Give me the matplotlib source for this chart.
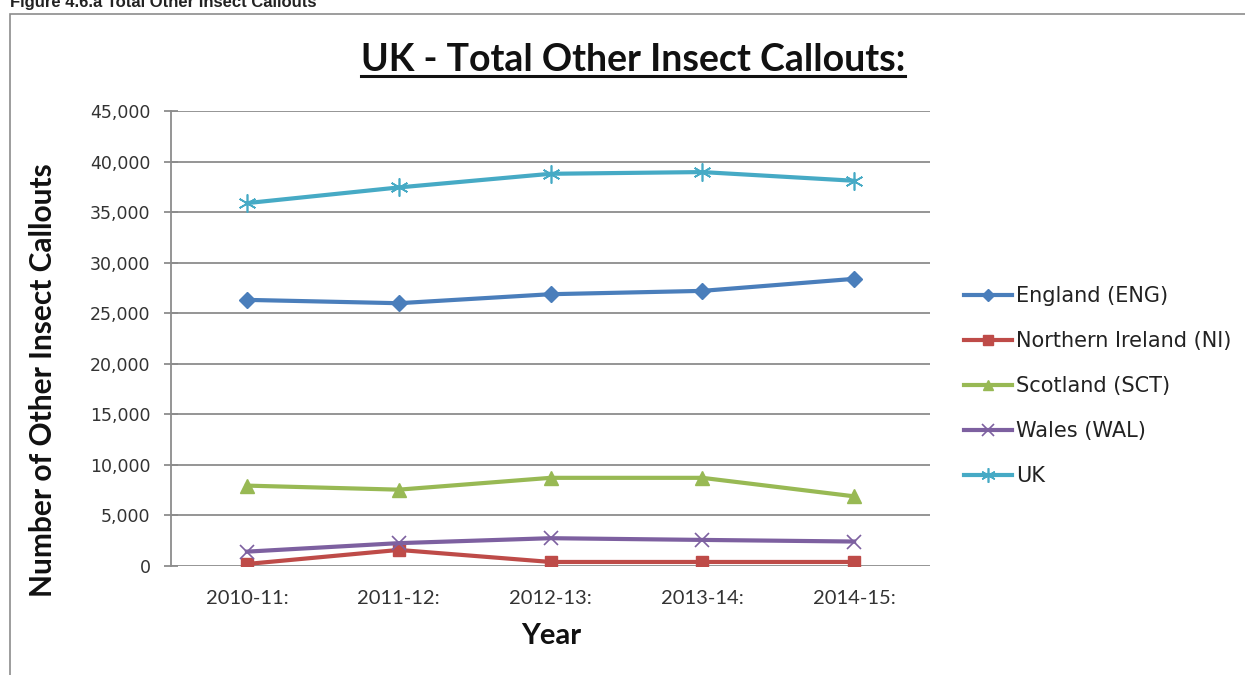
import matplotlib
matplotlib.use('Agg')
import matplotlib.pyplot as plt
from matplotlib.ticker import FuncFormatter, MultipleLocator
from matplotlib.patches import Rectangle

# Data
years = ['2010-11:', '2011-12:', '2012-13:', '2013-14:', '2014-15:']
england = [26320, 25990, 26880, 27210, 28400]
northern_ireland = [200, 1590, 400, 400, 400]
scotland = [7950, 7550, 8720, 8720, 6890]
wales = [1420, 2260, 2750, 2580, 2420]
uk = [35890, 37440, 38790, 38960, 38100]

series = [
    ('England (ENG)', england, '#4A7EBB', 'D', 8, 1),
    ('Northern Ireland (NI)', northern_ireland, '#BE4B48', 's', 8.5, 1),
    ('Scotland (SCT)', scotland, '#98B954', '^', 9.5, 1),
    ('Wales (WAL)', wales, '#7D60A0', 'x', 10, 1.2),
    ('UK', uk, '#46AAC5', (6, 2, 0), 13, 1.2),
]

plt.rcParams['font.family'] = ['Lato', 'DejaVu Sans']

W, H = 1245, 675
fig = plt.figure(figsize=(W / 100, H / 100), dpi=100)

# outer frame of the chart object
fig.patches.append(Rectangle((10 / W, -0.01), 1.0, (H - 14) / H + 0.01,
                             transform=fig.transFigure, fill=False,
                             edgecolor='#8c8c8c', linewidth=1.2))
fig.text(10 / W, 1 - 3 / H, 'Figure 4.6.a Total Other Insect Callouts',
         family='Liberation Sans', fontweight='bold', fontsize=12,
         ha='left', va='center', color='#222222')

ax = fig.add_axes([171 / W, 109 / H, (930 - 171) / W, (566 - 111) / H])
x = list(range(len(years)))
for name, vals, col, mk, ms, mew in series:
    ax.plot(x, vals, color=col, linewidth=3, marker=mk, markersize=ms,
            markeredgewidth=mew, markeredgecolor=col, label=name)

ax.set_xlim(-0.5, len(years) - 0.5)
ax.set_ylim(0, 45000)
ax.yaxis.set_major_locator(MultipleLocator(5000))
ax.yaxis.set_major_formatter(FuncFormatter(lambda v, p: f'{int(v):,}'))
ax.set_xticks(x)
ax.set_xticklabels(years)
ax.grid(axis='y', color='#8c8c8c', linewidth=1.3)
ax.set_axisbelow(True)
for s in ['top', 'right', 'bottom']:
    ax.spines[s].set_visible(False)
ax.spines['left'].set_color('#8c8c8c')
ax.spines['left'].set_linewidth(1.3)
ax.tick_params(axis='y', direction='inout', length=10.5, color='#8c8c8c',
               width=1.3, labelsize=12.5, labelcolor='#333333', pad=9.5)
for lab in ax.get_yticklabels():
    lab.set_family('DejaVu Sans')
ax.tick_params(axis='x', length=0, labelsize=14.5, labelcolor='#333333', pad=17)

# title, centred on the whole chart area and underlined
title = fig.text(633 / W, 1 - 60 / H, 'UK - Total Other Insect Callouts:',
                 fontsize=27, fontweight='bold', ha='center', va='center',
                 color='#111111')
fig.canvas.draw()
bb = title.get_window_extent()
fig.add_artist(plt.Line2D([bb.x0 / W, bb.x1 / W], [(bb.y0 + 1) / H] * 2,
                          transform=fig.transFigure, color='#111111', linewidth=2.2))

fig.text(43 / W, 1 - 380 / H, 'Number of Other Insect Callouts', rotation=90,
         fontsize=21.5, fontweight='bold', ha='center', va='center', color='#111111')
fig.text(551 / W, 1 - 636 / H, 'Year', fontsize=21, fontweight='bold',
         ha='center', va='center', color='#111111')

leg = ax.legend(loc='center left', bbox_to_anchor=(1.02, 0.395), frameon=False,
                handlelength=2.3, handletextpad=0.2, labelspacing=1.2,
                markerscale=0.8, prop={'family': 'DejaVu Sans', 'size': 15})
for t in leg.get_texts():
    t.set_color('#222222')

fig.savefig('out.png', dpi=100)
